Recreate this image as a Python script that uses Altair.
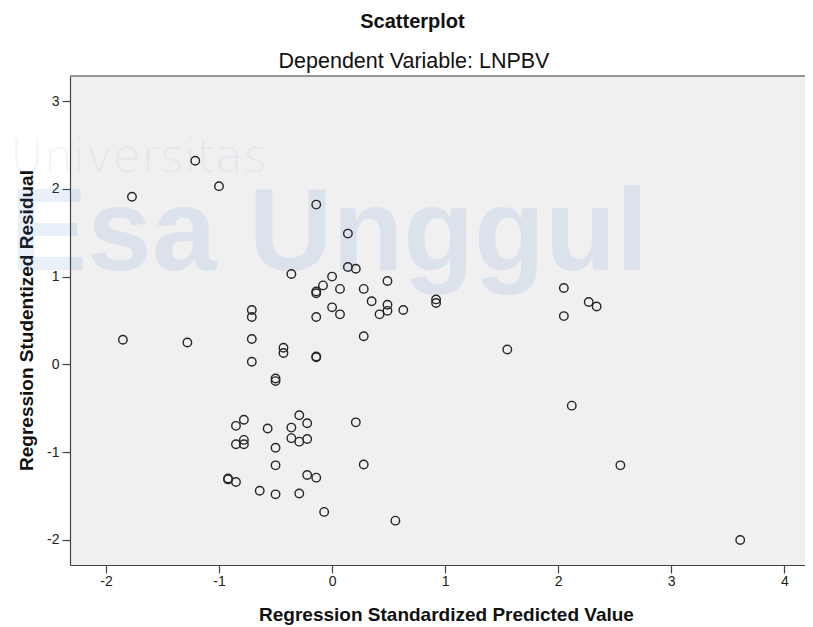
import altair as alt
import pandas as pd

# ---- data ----
x_pred = [-1.21, -1.77, -1.00, -0.14, 0.14, 0.14, 0.21, -0.36, 0.00, -0.08,
          0.07, -0.14, -0.14, 0.28, 0.49, 0.35, 0.49, 0.49, 0.42, 0.63,
          0.00, 0.07, -0.14, -0.71, -0.71, -0.71, 0.28, -1.85, -1.28, -0.43,
          -0.43, -0.14, -0.14, -0.71, 2.05, 2.05, 2.27, 2.34, 0.92, 0.92,
          1.55, -0.50, -0.50, -0.29, -0.22, -0.78, -0.85, -0.57, -0.36, 0.21,
          -0.78, -0.78, -0.85, -0.36, -0.29, -0.22, -0.50, -0.50, 0.28, -0.92,
          -0.92, -0.85, -0.22, -0.14, -0.64, -0.50, -0.29, -0.07, 0.56, 2.12,
          2.55, 3.61]
y_resid = [2.32, 1.91, 2.03, 1.82, 1.49, 1.11, 1.09, 1.03, 1.00, 0.90,
           0.86, 0.83, 0.81, 0.86, 0.95, 0.72, 0.68, 0.61, 0.57, 0.62,
           0.65, 0.57, 0.54, 0.62, 0.54, 0.29, 0.32, 0.28, 0.25, 0.19,
           0.13, 0.09, 0.08, 0.03, 0.87, 0.55, 0.71, 0.66, 0.74, 0.70,
           0.17, -0.16, -0.19, -0.58, -0.67, -0.63, -0.70, -0.73, -0.72, -0.66,
           -0.86, -0.91, -0.91, -0.84, -0.88, -0.85, -0.95, -1.15, -1.14, -1.30,
           -1.31, -1.34, -1.26, -1.29, -1.44, -1.48, -1.47, -1.68, -1.78, -0.47,
           -1.15, -2.00]

title_text = ["Scatterplot"]
subtitle_text = ["Dependent Variable: LNPBV"]
x_title = "Regression Standardized Predicted Value"
y_title = "Regression Studentized Residual"
x_ticks = [-2, -1, 0, 1, 2, 3, 4]
y_ticks = [-2, -1, 0, 1, 2, 3]
x_domain = [-2.318, 4.183]
y_domain = [-2.285, 3.285]
watermark_big = ["Esa Unggul"]
watermark_small = ["Universitas"]

W, H = 735, 489
FONT = "Liberation Sans"
WM_COLOR = "#4a7fd4"

df = pd.DataFrame({"pred": x_pred, "resid": y_resid})

wm_big = alt.Chart(pd.DataFrame({"t": watermark_big})).mark_text(
    font=FONT, fontSize=116, fontWeight="bold", align="left", baseline="alphabetic",
    color=WM_COLOR, opacity=0.115
).encode(x=alt.value(-60), y=alt.value(194), text="t:N")

wm_small = alt.Chart(pd.DataFrame({"t": watermark_small})).mark_text(
    font="DejaVu Sans", fontSize=46, fontWeight=200, align="left", baseline="alphabetic",
    color=WM_COLOR, opacity=0.07
).encode(x=alt.value(-60), y=alt.value(96), text="t:N")

top_border = alt.Chart(pd.DataFrame({"a": [0]})).mark_rule(
    color="#777777", strokeWidth=1.5
).encode(x=alt.value(0), x2=alt.value(W), y=alt.value(0))

points = alt.Chart(df).mark_point(
    shape="circle", filled=False, size=72, strokeWidth=1.4, color="#262626", opacity=1
).encode(
    x=alt.X("pred:Q",
            scale=alt.Scale(domain=x_domain, nice=False, zero=False),
            axis=alt.Axis(values=x_ticks, title=x_title, labelExpr="datum.value + ''",
                          titleX=376, titleY=55, titleAlign="center",
                          titleBaseline="alphabetic", labelPadding=1)),
    y=alt.Y("resid:Q",
            scale=alt.Scale(domain=y_domain, nice=False, zero=False),
            axis=alt.Axis(values=y_ticks, title=y_title, labelExpr="datum.value + ''",
                          titleX=-38, titleY=244, titleAngle=270, titleAlign="center",
                          titleBaseline="alphabetic", labelPadding=3)),
)

title_mark = alt.Chart(pd.DataFrame({"t": title_text})).mark_text(
    font=FONT, fontSize=20, fontWeight="bold", align="center", baseline="alphabetic",
    color="#111111"
).encode(x=alt.value(342.5), y=alt.value(-48), text="t:N")

subtitle_mark = alt.Chart(pd.DataFrame({"t": subtitle_text})).mark_text(
    font=FONT, fontSize=21.5, align="center", baseline="alphabetic", color="#111111"
).encode(x=alt.value(344), y=alt.value(-8), text="t:N")

chart = alt.layer(wm_small, wm_big, top_border, points, title_mark, subtitle_mark).properties(
    width=W, height=H,
    autosize=alt.AutoSizeParams(type="none"),
    padding={"left": 62, "top": 68, "right": 0, "bottom": 62},
    background="white",
).configure_view(
    fill="#F0F0F0", stroke=None
).configure_axis(
    grid=False, domainColor="#444444", domainWidth=1.2, tickColor="#444444",
    tickSize=8, tickWidth=1.2, labelFont=FONT, labelFontSize=14, labelColor="#222222",
    titleFont=FONT, titleFontSize=19, titleFontWeight="bold", titleColor="#111111",
)

chart.save("out.html", embed_options={"renderer": "svg", "actions": False})
